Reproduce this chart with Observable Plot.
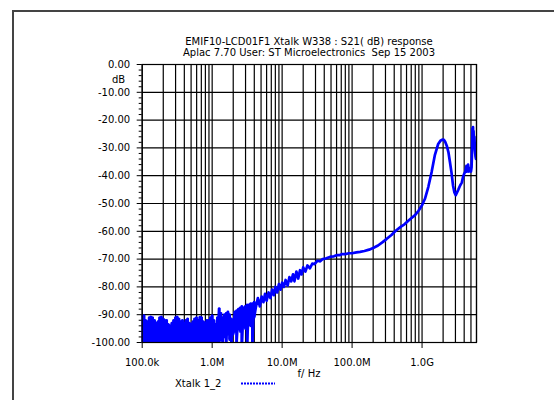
<!DOCTYPE html>
<html><head><meta charset="utf-8">
<script src="https://cdn.jsdelivr.net/npm/d3@7"></script>
<script src="https://cdn.jsdelivr.net/npm/@observablehq/plot@0.6"></script>
<style>
body{margin:0;background:#fff;}
#wrap{position:relative;width:554px;height:400px;overflow:hidden;background:#fff;font-family:"DejaVu Sans",sans-serif;font-size:10px;color:#000;}
.t{position:absolute;white-space:pre;line-height:11px;}
.c{transform:translateX(-50%);}
</style></head><body>
<div id="wrap">
  <div style="position:absolute;left:12px;top:10px;width:600px;height:500px;border-left:2px solid #444;border-top:2px solid #444;"></div>
  <div id="chart" style="position:absolute;left:0;top:0"></div>
  <div class="t c" style="left:309px;top:36px">EMIF10-LCD01F1 Xtalk W338 : S21( dB) response</div>
  <div class="t c" style="left:309px;top:47px">Aplac 7.70 User: ST Microelectronics  Sep 15 2003</div>
  <div class="t c" style="left:118.5px;top:74px">dB</div>
  <div class="t c" style="left:309px;top:368px">f/ Hz</div>
  <div class="t" style="left:175px;top:378px">Xtalk 1_2</div>
  <svg style="position:absolute;left:241px;top:381px" width="36" height="5"><line x1="0" y1="2.5" x2="34" y2="2.5" stroke="#0000ff" stroke-width="2" stroke-dasharray="2,1"/></svg>
</div>
<script>
// ---- data ----
const xTicks = [1e5, 1e6, 1e7, 1e8, 1e9];
const xTickLabels = ["100.0k", "1.0M", "10.0M", "100.0M", "1.0G"];
const yTicks = [0, -10, -20, -30, -40, -50, -60, -70, -80, -90, -100];
const yTickLabels = ["0.00", "-10.00", "-20.00", "-30.00", "-40.00", "-50.00", "-60.00", "-70.00", "-80.00", "-90.00", "-100.00"];
const yMinor = [-2,-4,-6,-8,-12,-14,-16,-18,-22,-24,-26,-28,-32,-34,-36,-38,-42,-44,-46,-48,-52,-54,-56,-58,-62,-64,-66,-68,-72,-74,-76,-78,-82,-84,-86,-88,-92,-94,-96,-98];
const gridDecades = [1e5, 1e6, 1e7, 1e8, 1e9];
const gridMultipliers = [1, 2, 3, 4, 5, 6, 7, 8, 9];
const xMaxHz = 6e9;

// noisy low-frequency part (kHz, upper and lower excursion of the trace)
const noiseFreqKHz = [100,106,112,119,126,133,141,150,158,168,178,188,200,211,224,237,251,266,282,299,316,335,355,376,398,422,447,473,501,531,562,596,631,668,708,750,794,841,891,944,1000,1059,1122,1189,1259,1334,1413,1496,1585,1679,1778,1884,1995,2113,2239,2371,2512,2661,2818,2985,3162,3350,3548,3758,3981];
const noiseTopDb = [-90.5,-90.3,-92,-92.5,-91,-90.8,-91,-92,-93,-92.5,-91,-90.8,-91.5,-92,-92,-93.5,-94,-93,-92,-91,-90.8,-91.5,-92.5,-92,-93,-92,-91.5,-93,-93.5,-92.5,-91.5,-91,-92,-90.9,-91,-92.5,-93,-92,-92,-91,-90.3,-92,-93.5,-91,-87.8,-89.5,-91,-90,-89.5,-89,-90,-91.5,-92,-89,-88.5,-88,-87.5,-87,-87.5,-87,-86.5,-86.5,-86,-86,-85.5];
const noiseBotDb = [-100,-100,-100,-100,-100,-100,-100,-100,-100,-100,-100,-100,-100,-100,-100,-100,-100,-100,-100,-100,-100,-100,-100,-100,-100,-100,-100,-100,-100,-100,-100,-100,-100,-100,-100,-100,-100,-100,-100,-100,-100,-100,-100,-100,-100,-99,-100,-98,-100,-97,-99,-100,-97,-96,-100,-95,-96,-100,-94,-95,-100,-93,-94,-100,-91];

// main trace (MHz, dB)
const traceFreqMHz = [4.2,4.5,4.8,5.1,5.4,5.7,6.0,6.4,6.8,7.2,7.6,8.0,8.5,9.0,9.5,10,10.6,11.2,12,12.7,13.5,14.3,15,16,17,18,19,20,21.5,23,25,27,29,32,35,38,42,46,50,55,60,66,72,80,90,100,115,130,150,175,200,235,270,310,365,420,500,560,630,700,794,890,1000,1100,1230,1370,1520,1700,1850,1970,2050,2140,2260,2380,2500,2630,2770,2900,3030,3300,3500,3700,3850,4000,4150,4300,4400,4550,4700,4850,5000,5100,5200,5250,5300,5350,5400,5450,5500,5600,5700,5800,5900,6000];
const traceDb = [-87.5,-84,-87,-83.5,-85.5,-82.5,-85,-82,-84,-81,-83,-80,-82,-79,-81,-78.5,-80,-77.5,-79.5,-76.5,-78,-75.5,-78,-74.5,-77,-74,-75.5,-73,-74.5,-72.3,-73.3,-71.6,-71.8,-70.6,-70.8,-70,-69.8,-69.4,-69.1,-69,-68.6,-68.6,-68.2,-68.2,-67.9,-67.9,-67.6,-67.4,-67.1,-66.6,-66,-65.1,-64,-62.8,-61.3,-59.8,-58.3,-57.5,-56.3,-55.3,-54.2,-52.6,-50.6,-48.3,-44,-38.7,-32.7,-28.6,-27.3,-27.0,-27.1,-27.8,-29.3,-31.5,-35,-38.7,-43.5,-46,-47,-45,-43.5,-42.5,-40.5,-39.3,-38.5,-36.5,-38.5,-36,-38.5,-37.5,-38.5,-37,-30,-23,-28,-22.5,-27,-24,-30,-26,-31,-33,-34,-34];

// ---- build ----
const noiseRows = noiseFreqKHz.map((f, i) => ({f: f * 1e3, top: noiseTopDb[i], bot: noiseBotDb[i]}));
const table = [];
noiseRows.forEach(r => { table.push({f: r.f, db: r.top}); table.push({f: r.f, db: r.bot}); });
traceFreqMHz.forEach((f, i) => table.push({f: f * 1e6, db: traceDb[i]}));

const gridFreqs = gridDecades.flatMap(d => gridMultipliers.map(m => d * m)).filter(v => v <= xMaxHz);

const chart = Plot.plot({
  width: 554, height: 400,
  marginLeft: 141.7, marginRight: 78, marginTop: 64, marginBottom: 58,
  style: {background: "transparent", fontFamily: "DejaVu Sans", fontSize: "10px", color: "#000"},
  x: {type: "log", domain: [1e5, xMaxHz]},
  y: {domain: [-100, 0]},
  marks: [
    Plot.ruleX(gridFreqs, {stroke: "#000", strokeWidth: 1.2}),
    Plot.ruleY(yTicks, {stroke: "#000", strokeWidth: 1.2}),
    Plot.ruleX(noiseRows, {x: "f", y1: "bot", y2: "top", stroke: "#0000ff", strokeWidth: 2.6, clip: true}),
    Plot.line(table, {x: "f", y: "db", stroke: "#0000ff", strokeWidth: 2.7, clip: true}),
    Plot.frame({stroke: "#000", strokeWidth: 1.2}),
    Plot.axisX({ticks: xTicks, tickFormat: d => xTickLabels[xTicks.indexOf(d)], tickSize: 6, tickPadding: 10, label: null}),
    Plot.axisY({ticks: yTicks, tickFormat: d => yTickLabels[yTicks.indexOf(d)], tickSize: 5, tickPadding: 7, label: null}),
    Plot.axisY({ticks: yMinor, tickFormat: () => "", tickSize: 3, label: null})
  ]
});
document.getElementById("chart").appendChild(chart);
</script>
</body></html>
